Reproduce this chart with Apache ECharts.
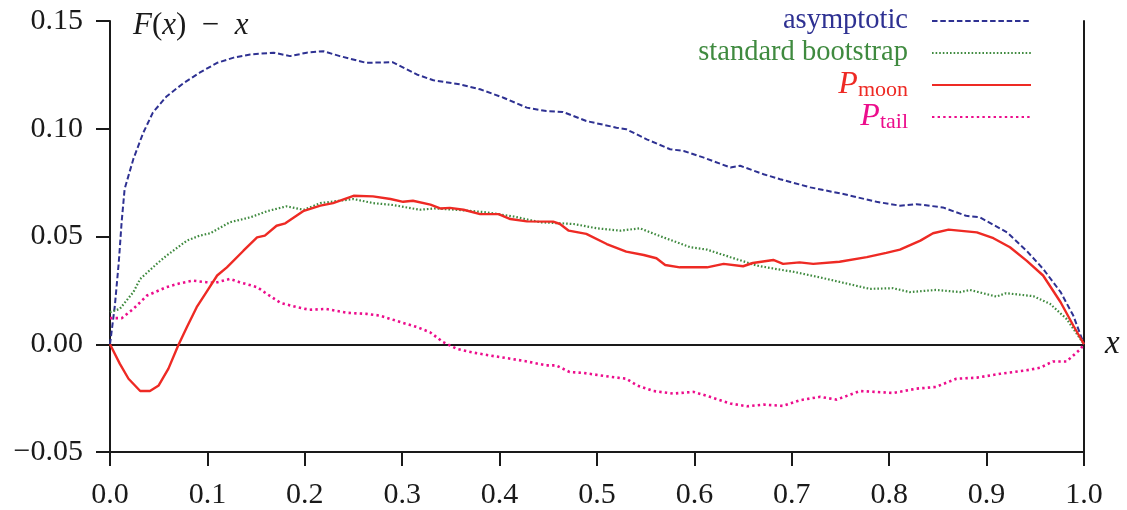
<!DOCTYPE html>
<html>
<head>
<meta charset="utf-8">
<script src="https://cdn.jsdelivr.net/npm/echarts@6/dist/echarts.min.js"></script>
<style>
html,body{margin:0;padding:0;background:#fff;}
#c{width:1127px;height:510px;}
</style>
</head>
<body>
<div id="c"></div>
<script>
// ---- data ----
const xTicks = [0, 0.1, 0.2, 0.3, 0.4, 0.5, 0.6, 0.7, 0.8, 0.9, 1.0];
const yTicks = [-0.05, 0, 0.05, 0.10, 0.15];
const seriesNames = ['asymptotic', 'standard bootstrap', 'Ptail', 'Pmoon'];

const asymptotic = [[0,0],[0.005,0.018],[0.009,0.038],[0.012,0.057],[0.015,0.072],[0.024,0.086],[0.034,0.098],[0.044,0.1075],[0.058,0.115],[0.075,0.121],[0.092,0.126],[0.110,0.1306],[0.127,0.133],[0.144,0.1345],[0.168,0.1353],[0.185,0.1337],[0.202,0.1353],[0.219,0.136],[0.236,0.1337],[0.263,0.1306],[0.290,0.1309],[0.315,0.1252],[0.332,0.1225],[0.359,0.1206],[0.380,0.1183],[0.404,0.1144],[0.428,0.1098],[0.448,0.1082],[0.465,0.1078],[0.489,0.1036],[0.520,0.1005],[0.530,0.0998],[0.551,0.0951],[0.575,0.0905],[0.589,0.0897],[0.609,0.0867],[0.637,0.0820],[0.647,0.0828],[0.671,0.0789],[0.688,0.0766],[0.719,0.0728],[0.753,0.0697],[0.787,0.0661],[0.811,0.0643],[0.828,0.0650],[0.855,0.0635],[0.879,0.0596],[0.893,0.0589],[0.921,0.0519],[0.941,0.0434],[0.958,0.0350],[0.976,0.0242],[0.989,0.0133],[1,0]];

const bootstrap = [[0,0.0149],[0.010,0.0164],[0.024,0.0242],[0.031,0.0303],[0.048,0.0373],[0.058,0.0411],[0.079,0.0481],[0.092,0.0504],[0.103,0.0515],[0.123,0.0566],[0.144,0.0589],[0.161,0.0617],[0.181,0.0640],[0.199,0.0624],[0.216,0.0655],[0.250,0.0674],[0.270,0.0655],[0.291,0.0646],[0.318,0.0624],[0.333,0.0630],[0.356,0.0624],[0.387,0.0612],[0.414,0.0593],[0.442,0.0566],[0.476,0.0558],[0.500,0.0538],[0.524,0.0527],[0.544,0.0538],[0.568,0.0496],[0.596,0.0450],[0.613,0.0439],[0.637,0.0404],[0.664,0.0365],[0.688,0.0346],[0.701,0.0337],[0.736,0.0303],[0.780,0.0257],[0.804,0.0260],[0.821,0.0242],[0.848,0.0252],[0.873,0.0242],[0.883,0.0252],[0.910,0.0221],[0.920,0.0237],[0.948,0.0223],[0.965,0.0188],[0.982,0.0118],[1,0]];

const pMoon = [[0,0],[0.010,-0.0090],[0.019,-0.0160],[0.031,-0.0217],[0.041,-0.0217],[0.050,-0.0191],[0.060,-0.0113],[0.070,-0.0006],[0.079,0.0080],[0.089,0.0172],[0.099,0.0242],[0.110,0.0319],[0.120,0.0357],[0.137,0.0434],[0.151,0.0496],[0.159,0.0504],[0.171,0.0550],[0.180,0.0561],[0.199,0.0619],[0.216,0.0643],[0.229,0.0655],[0.250,0.0689],[0.270,0.0686],[0.288,0.0674],[0.301,0.0661],[0.311,0.0666],[0.329,0.0648],[0.339,0.0630],[0.349,0.0633],[0.363,0.0624],[0.380,0.0604],[0.399,0.0604],[0.411,0.0581],[0.428,0.0570],[0.455,0.0569],[0.462,0.0558],[0.471,0.0527],[0.489,0.0512],[0.510,0.0465],[0.530,0.0430],[0.548,0.0414],[0.561,0.0399],[0.570,0.0368],[0.585,0.0357],[0.613,0.0357],[0.630,0.0373],[0.650,0.0362],[0.660,0.0377],[0.681,0.0391],[0.691,0.0373],[0.708,0.0380],[0.722,0.0373],[0.749,0.0383],[0.777,0.0404],[0.797,0.0424],[0.811,0.0439],[0.832,0.0481],[0.845,0.0515],[0.861,0.0532],[0.890,0.0519],[0.907,0.0492],[0.924,0.0450],[0.941,0.0388],[0.958,0.0319],[0.976,0.0195],[0.989,0.0087],[1,0]];

const pTail = [[0,0.0121],[0.012,0.0121],[0.024,0.0164],[0.038,0.0226],[0.058,0.0265],[0.072,0.0283],[0.085,0.0295],[0.099,0.0288],[0.108,0.0285],[0.123,0.0303],[0.133,0.0288],[0.151,0.0265],[0.161,0.0234],[0.175,0.0192],[0.192,0.0172],[0.205,0.0160],[0.222,0.0164],[0.243,0.0146],[0.263,0.0141],[0.277,0.0133],[0.298,0.0103],[0.315,0.0080],[0.3285,0.0056],[0.342,0.0010],[0.356,-0.0021],[0.373,-0.0039],[0.394,-0.0055],[0.411,-0.0067],[0.428,-0.0080],[0.448,-0.0098],[0.458,-0.0098],[0.472,-0.0129],[0.486,-0.0133],[0.507,-0.0147],[0.530,-0.0160],[0.541,-0.0191],[0.558,-0.0217],[0.578,-0.0229],[0.599,-0.0221],[0.616,-0.0244],[0.637,-0.0275],[0.654,-0.0288],[0.671,-0.0280],[0.691,-0.0286],[0.708,-0.0260],[0.729,-0.0244],[0.746,-0.0257],[0.770,-0.0217],[0.804,-0.0226],[0.828,-0.0206],[0.848,-0.0198],[0.869,-0.0160],[0.890,-0.0155],[0.914,-0.0137],[0.941,-0.0121],[0.955,-0.0109],[0.968,-0.0080],[0.982,-0.0080],[0.996,-0.0024],[1,0]];

// ---- styling ----
const SERIF = '"Liberation Serif", "DejaVu Serif", serif';
const INK = '#1a1a1a';
const C_BLUE = '#2e3192', C_GREEN = '#3f8a3f', C_RED = '#ee2a24', C_MAG = '#ec0d8c';

const chart = echarts.init(document.getElementById('c'), null, {renderer: 'canvas'});

function yFmt(v) {
  if (Math.abs(v) < 1e-9) return '0.00';
  return (v < 0 ? '\u2212' : '') + Math.abs(v).toFixed(2);
}

const legendNames = {
  'asymptotic': 'asymptotic',
  'standard bootstrap': 'standard bootstrap',
  'Pmoon': '{p|P}{s|moon}',
  'Ptail': '{p|P}{s|tail}'
};

const option = {
  animation: false,
  backgroundColor: '#fff',
  title: {
    left: 128, top: 4,
    text: '{i|F}{n|(}{i|x}{n|)}{n|  \u2212  }{i|x}',
    textStyle: {
      fontWeight: 'normal',
      rich: {
        i: {fontFamily: SERIF, fontStyle: 'italic', fontWeight: 'normal', fontSize: 31, color: INK, lineHeight: 34},
        n: {fontFamily: SERIF, fontWeight: 'normal', fontSize: 31, color: INK, lineHeight: 34}
      }
    }
  },
  legend: {
    orient: 'vertical',
    right: 90, top: 0,
    align: 'right',
    itemWidth: 99, itemHeight: 14, itemGap: 0,
    itemStyle: {opacity: 0, color: 'rgba(0,0,0,0)', borderWidth: 0},
    data: [
      {name: 'asymptotic', textStyle: {color: C_BLUE}},
      {name: 'standard bootstrap', textStyle: {color: C_GREEN}},
      {name: 'Pmoon', textStyle: {color: C_RED}},
      {name: 'Ptail', textStyle: {color: C_MAG}}
    ],
    formatter: function (name) { return legendNames[name]; },
    textStyle: {
      fontFamily: SERIF, fontSize: 28.5, lineHeight: 32,
      padding: [0, 19, 0, 0],
      rich: {
        p: {fontFamily: SERIF, fontStyle: 'italic', fontSize: 32, lineHeight: 32, verticalAlign: 'top'},
        s: {fontFamily: SERIF, fontSize: 22, lineHeight: 16, verticalAlign: 'bottom'}
      }
    },
    selectedMode: false
  },
  grid: {left: 110, right: 43, top: 21, bottom: 56, containLabel: false},
  xAxis: [
    {
      type: 'value', min: 0, max: 1, interval: 0.1, position: 'bottom',
      axisLine: {show: true, onZero: false, lineStyle: {color: INK, width: 2}},
      axisTick: {show: true, inside: false, length: 14, lineStyle: {color: INK, width: 2}},
      axisLabel: {margin: 28, fontFamily: SERIF, fontSize: 30, color: INK,
        formatter: function (v) { return v.toFixed(1); }},
      splitLine: {show: false}
    },
    {
      type: 'value', min: 0, max: 1, position: 'top',
      axisLine: {show: true, onZero: true, onZeroAxisIndex: 0, lineStyle: {color: INK, width: 2}},
      axisTick: {show: false}, axisLabel: {show: false}, splitLine: {show: false},
      name: 'x', nameLocation: 'end', nameGap: 21,
      nameTextStyle: {fontFamily: SERIF, fontStyle: 'italic', fontSize: 33, color: INK}
    }
  ],
  yAxis: [
    {
      type: 'value', min: -0.05, max: 0.15, interval: 0.05, position: 'left',
      axisLine: {show: true, onZero: false, lineStyle: {color: INK, width: 2}},
      axisTick: {show: true, inside: false, length: 14, lineStyle: {color: INK, width: 2}},
      axisLabel: {margin: 27, fontFamily: SERIF, fontSize: 30, color: INK, formatter: yFmt},
      splitLine: {show: false}
    },
    {
      type: 'value', min: -0.05, max: 0.15, interval: 0.05, position: 'right',
      axisLine: {show: true, onZero: false, lineStyle: {color: INK, width: 2}},
      axisTick: {show: false}, axisLabel: {show: false}, splitLine: {show: false}
    }
  ],
  series: [
    {
      name: 'asymptotic', type: 'line', data: asymptotic, symbol: 'none', showSymbol: false,
      lineStyle: {color: C_BLUE, width: 2, type: [5.5, 2.8], cap: 'butt'}, itemStyle: {color: C_BLUE}, z: 3
    },
    {
      name: 'standard bootstrap', type: 'line', data: bootstrap, symbol: 'none', showSymbol: false,
      lineStyle: {color: C_GREEN, width: 2.2, type: [1.6, 2], cap: 'butt'}, itemStyle: {color: C_GREEN}, z: 3
    },
    {
      name: 'Ptail', type: 'line', data: pTail, symbol: 'none', showSymbol: false,
      lineStyle: {color: C_MAG, width: 2.6, type: [2.4, 3.2], cap: 'butt'}, itemStyle: {color: C_MAG}, z: 3
    },
    {
      name: 'Pmoon', type: 'line', data: pMoon, symbol: 'none', showSymbol: false,
      lineStyle: {color: C_RED, width: 2.4, type: 'solid'}, itemStyle: {color: C_RED}, z: 4
    }
  ]
};
chart.setOption(option);
</script>
</body>
</html>
